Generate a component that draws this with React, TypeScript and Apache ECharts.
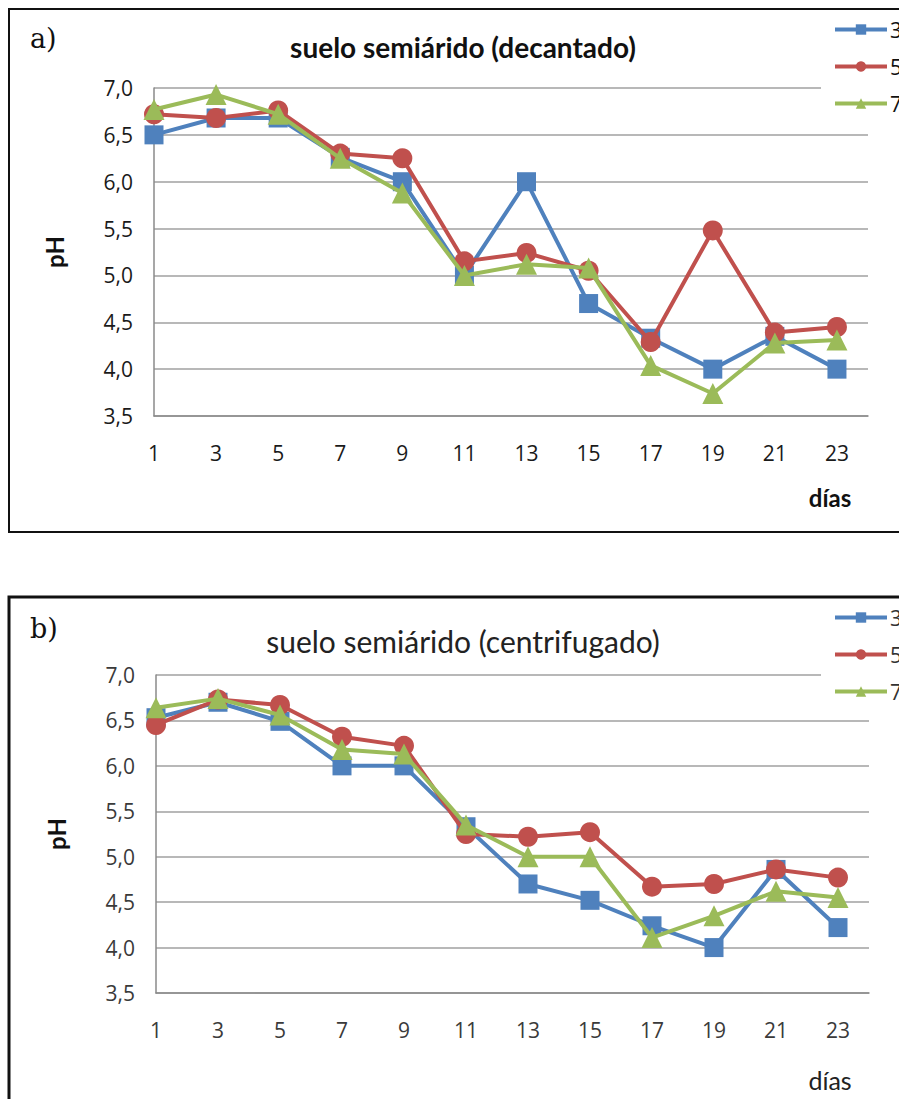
import React, { useEffect, useRef } from "react";
import * as echarts from "echarts";

const days = [1, 3, 5, 7, 9, 11, 13, 15, 17, 19, 21, 23];
const seriesNames = ["3", "5", "7"];
const colors = ["#4F81BD", "#C0504D", "#9BBB59"];
const symbols = ["rect", "circle", "triangle"];
const symbolSizes = [19, 20, 21];

const decantado3 = [6.5, 6.68, 6.68, 6.26, 6.0, 5.0, 6.0, 4.7, 4.33, 4.0, 4.35, 4.0];
const decantado5 = [6.72, 6.68, 6.76, 6.3, 6.25, 5.15, 5.24, 5.05, 4.29, 5.48, 4.39, 4.45];
const decantado7 = [6.77, 6.93, 6.72, 6.25, 5.88, 5.0, 5.12, 5.08, 4.04, 3.74, 4.28, 4.31];

const centrifugado3 = [6.53, 6.7, 6.49, 6.0, 6.0, 5.33, 4.7, 4.52, 4.24, 4.0, 4.86, 4.22];
const centrifugado5 = [6.45, 6.73, 6.67, 6.32, 6.22, 5.25, 5.22, 5.27, 4.67, 4.7, 4.86, 4.77];
const centrifugado7 = [6.64, 6.74, 6.56, 6.18, 6.13, 5.35, 5.0, 5.0, 4.11, 4.35, 4.62, 4.55];

const yMin = 3.5;
const yMax = 7.0;
const yStep = 0.5;
const xMin = 1;
const xMax = 24;

const titleA = "suelo semiárido (decantado)";
const titleB = "suelo semiárido (centrifugado)";

export default function App() {
  const ref = useRef<HTMLDivElement>(null);
  useEffect(() => {
    if (!ref.current) return;
    const chart = echarts.init(ref.current, null, { renderer: "svg" });
    const sets = [
      [decantado3, decantado5, decantado7],
      [centrifugado3, centrifugado5, centrifugado7],
    ];
    const labelColors = ["#1a1a1a", "#3a3a3a"];
    const grids = [
      { left: 154, top: 88, width: 714, height: 328 },
      { left: 156, top: 675, width: 713, height: 318 },
    ];
    const xAxes = grids.map((g, i) => ({
      type: "value",
      gridIndex: i,
      min: xMin,
      max: xMax,
      interval: 1,
      axisLine: { show: true, lineStyle: { color: "#8a8a8a", width: 1.5 } },
      axisTick: { show: false },
      splitLine: { show: false },
      axisLabel: {
        margin: 26,
        fontSize: 21,
        fontFamily: "Open Sans",
        color: labelColors[i],
        showMinLabel: true,
        showMaxLabel: true,
        formatter: (v: number) => (days.indexOf(v) >= 0 ? String(v) : ""),
      },
    }));
    const yAxes = grids.map((g, i) => ({
      type: "value",
      gridIndex: i,
      min: yMin,
      max: yMax,
      interval: yStep,
      name: "pH",
      nameLocation: "middle",
      nameGap: 88,
      nameRotate: 90,
      nameTextStyle: { fontSize: 24, fontWeight: "bold", fontFamily: "Lato", color: "#111" },
      axisLine: { show: true, lineStyle: { color: "#8a8a8a", width: 1.5 } },
      axisTick: { show: false },
      splitLine: { show: true, lineStyle: { color: "#a0a0a0", width: 1.5 } },
      axisLabel: {
        margin: 21,
        fontSize: 21,
        fontFamily: "Open Sans",
        color: labelColors[i],
        formatter: (v: number) => v.toFixed(1).replace(".", ","),
      },
    }));
    const series: any[] = [];
    sets.forEach((set, gi) => {
      set.forEach((vals, si) => {
        series.push({
          type: "line",
          name: seriesNames[si],
          xAxisIndex: gi,
          yAxisIndex: gi,
          data: days.map((d, k) => [d, vals[k]]),
          symbol: symbols[si],
          symbolSize: symbolSizes[si],
          itemStyle: { color: colors[si] },
          lineStyle: { color: colors[si], width: 4 },
          z: 3 + si,
        });
      });
    });
    const legendBase = {
      orient: "vertical",
      left: 821,
      itemWidth: 52,
      itemHeight: 13,
      itemGap: 16,
      padding: [8, 12, 8, 12],
      backgroundColor: "#ffffff",
      lineStyle: { width: 4 },
      textStyle: { fontSize: 21, fontFamily: "Open Sans", color: "#111", padding: [0, 0, 0, -2] },
      data: seriesNames,
      selectedMode: false,
      z: 10,
    };
    chart.setOption({
      animation: false,
      backgroundColor: "#ffffff",
      grid: grids,
      xAxis: xAxes,
      yAxis: yAxes,
      series,
      legend: [
        { ...legendBase, top: 11 },
        { ...legendBase, top: 599, textStyle: { ...legendBase.textStyle, color: "#333" } },
      ],
      title: [
        {
          text: titleA,
          left: 458,
          top: 28,
          textAlign: "center",
          textStyle: { fontSize: 28, fontWeight: "bold", fontFamily: "Lato", color: "#111" },
        },
        {
          text: titleB,
          left: 458,
          top: 621,
          textAlign: "center",
          textStyle: { fontSize: 30, fontWeight: "normal", fontFamily: "Lato", color: "#222" },
        },
      ],
      graphic: [
        {
          type: "rect",
          shape: { x: 9, y: 9, width: 1000, height: 523 },
          style: { fill: "none", stroke: "#111", lineWidth: 2 },
          z: 0,
        },
        {
          type: "rect",
          shape: { x: 9, y: 597, width: 1000, height: 700 },
          style: { fill: "none", stroke: "#111", lineWidth: 3 },
          z: 0,
        },
        {
          type: "text",
          x: 30,
          y: 38,
          style: { text: "a)", fontSize: 27, fontFamily: "DejaVu Serif", fill: "#111", verticalAlign: "middle" },
        },
        {
          type: "text",
          x: 30,
          y: 628,
          style: { text: "b)", fontSize: 27, fontFamily: "DejaVu Serif", fill: "#111", verticalAlign: "middle" },
        },
        {
          type: "text",
          x: 830,
          y: 497,
          style: { text: "días", fontSize: 24, fontWeight: "bold", fontFamily: "Lato", fill: "#111", align: "center", verticalAlign: "middle" },
        },
        {
          type: "text",
          x: 830,
          y: 1080,
          style: { text: "días", fontSize: 25, fontFamily: "Lato", fill: "#222", align: "center", verticalAlign: "middle" },
        },
      ],
    });
    return () => chart.dispose();
  }, []);
  return (
    <div
      ref={ref}
      style={{ position: "absolute", left: 0, top: 0, width: 899, height: 1099 }}
    />
  );
}
